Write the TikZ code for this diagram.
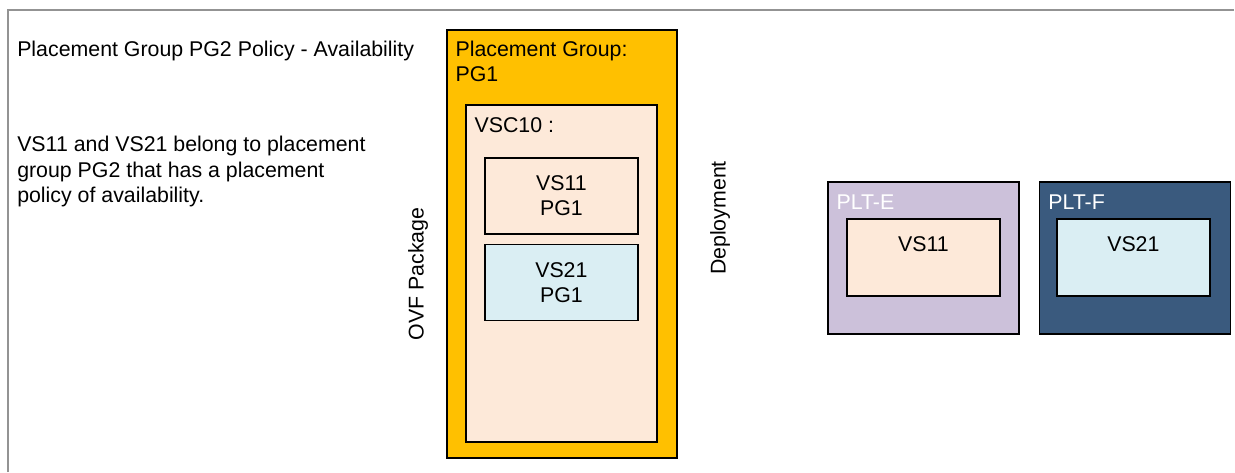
\documentclass[tikz,border=0pt]{standalone}
\usepackage{fontspec}
\setmainfont{Liberation Sans}
\usetikzlibrary{positioning}

\definecolor{pgyellow}{HTML}{FFC000}
\definecolor{vspeach}{HTML}{FDE9D9}
\definecolor{vsblue}{HTML}{DAEEF3}
\definecolor{pltlilac}{HTML}{CCC1DA}
\definecolor{pltnavy}{HTML}{3A5A7E}

\begin{document}
\begin{tikzpicture}[
        x=0.75pt, y=-0.75pt, % 1 unit = 1 px of the sketch
        every node/.style={font=\fontsize{16}{18.75}\selectfont},
        frame/.style={draw=gray!85, line width=1.5pt},
        box/.style={rectangle, draw=black, line width=1.3pt, anchor=north west, inner sep=0pt},
        pgbox/.style={box, fill=pgyellow, minimum width=172.5pt, minimum height=321pt},
        vscbox/.style={box, fill=vspeach, minimum width=143.25pt, minimum height=252.75pt},
        vsbox/.style={box, minimum width=114.75pt, minimum height=57pt, align=center},
        pltbox/.style={box, minimum width=143.25pt, minimum height=114pt},
        vmbox/.style={box, minimum width=114.75pt, minimum height=57.75pt},
        tag/.style={anchor=north west, align=left, inner sep=0pt, xshift=7pt, yshift=-9.8pt},
        vmtag/.style={anchor=north, inner sep=0pt, yshift=-13.8pt},
        side/.style={rotate=90}
    ]
    \useasboundingbox (0,0) rectangle (1235,472);
    \draw[frame] (8,472) -- (8,9.5) -- (1234,9.5);

    % notes
    \node[anchor=base west, inner sep=0pt] (title) at (17,56)
        {Placement Group PG2 Policy - Availability};
    \node[anchor=north west, align=left, inner sep=0pt, font=\fontsize{16}{19}\selectfont] (note) at (17,136)
        {VS11 and VS21 belong to placement\\group PG2 that has a placement\\policy of availability.};

    % OVF package
    \node[side] (ovf) at (418,274) {OVF Package};
    \node[pgbox, label={[tag, yshift=0.6pt]north west:Placement Group:\\PG1}] (pg1) at (446,29) {};
    \node[vscbox, label={[tag]north west:VSC10 :}] (vsc10) at (465,104) {};
    \node[vsbox, fill=vspeach] (vs11pg) at (484,157) {VS11\\PG1};
    \node[vsbox, fill=vsblue, below=6.75pt of vs11pg] (vs21pg) {VS21\\PG1};

    % deployment
    \node[side] (deploy) at (720,218) {Deployment};
    \node[pltbox, fill=pltlilac, label={[tag, text=white]north west:PLT-E}] (plte) at (827,181) {};
    \node[pltbox, fill=pltnavy, label={[tag, text=white]north west:PLT-F}, right=14.25pt of plte] (pltf) {};
    \node[vmbox, fill=vspeach, label={[vmtag]north:VS11}] (vs11) at (846,218) {};
    \node[vmbox, fill=vsblue, label={[vmtag]north:VS21}] (vs21) at (1056,218) {};
\end{tikzpicture}
\end{document}
